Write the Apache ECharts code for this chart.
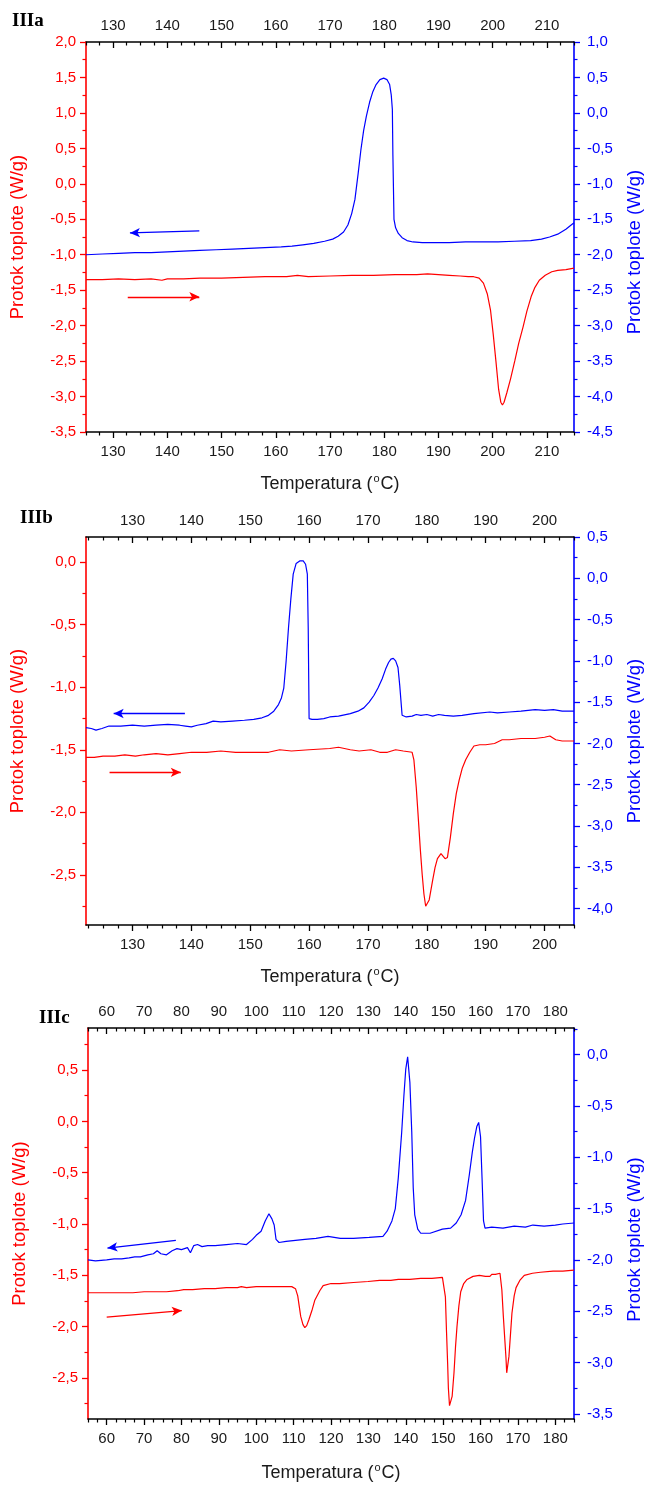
<!DOCTYPE html>
<html><head><meta charset="utf-8">
<script src="https://cdn.jsdelivr.net/npm/echarts@6/dist/echarts.min.js"></script>
<style>html,body{margin:0;padding:0;background:#fff}#c{width:652px;height:1485px}</style>
</head><body><div id="c"></div>
<script>
// ---------- Panel IIIa ----------
const aXTicks = [130,140,150,160,170,180,190,200,210];
const aYLeftTicks = [2.0,1.5,1.0,0.5,0.0,-0.5,-1.0,-1.5,-2.0,-2.5,-3.0,-3.5];
const aYRightTicks = [1.0,0.5,0.0,-0.5,-1.0,-1.5,-2.0,-2.5,-3.0,-3.5,-4.0,-4.5];
const aRedX = [125,128,131,134,137,139,140,143,146,150,154,158,162,164,166,170,174,178,182,186,188,190,192,194,195.5,196.5,197.5,198.3,199,199.6,200.1,200.6,201.1,201.5,201.8,202.1,202.6,203.3,204.1,204.8,205.6,206.3,207.1,207.8,208.6,209.7,210.9,212,213.5,215];
const aRedY = [-1.35,-1.35,-1.34,-1.35,-1.34,-1.36,-1.34,-1.34,-1.33,-1.33,-1.32,-1.31,-1.31,-1.29,-1.31,-1.30,-1.29,-1.29,-1.28,-1.28,-1.27,-1.28,-1.29,-1.30,-1.31,-1.31,-1.33,-1.40,-1.55,-1.78,-2.12,-2.50,-2.90,-3.08,-3.12,-3.08,-2.95,-2.75,-2.49,-2.25,-2.02,-1.80,-1.59,-1.46,-1.36,-1.29,-1.24,-1.22,-1.21,-1.19];
const aBlueX = [125,128,131,134,137,140,143,146,149,152,155,158,161,163,165,167,169,170.5,171.5,172.5,173.3,174,174.6,175.2,175.7,176.2,176.7,177.3,177.9,178.5,179.2,179.9,180.5,181,181.3,181.5,181.6,181.8,182.1,182.6,183.3,184.2,185.3,187,189,192,195,198,201,204,207,209,210.5,212,213.5,215];
const aBlueY = [-2.0,-1.99,-1.98,-1.97,-1.97,-1.96,-1.95,-1.94,-1.93,-1.92,-1.91,-1.90,-1.89,-1.88,-1.86,-1.84,-1.81,-1.78,-1.74,-1.68,-1.58,-1.42,-1.22,-0.85,-0.52,-0.25,-0.05,0.15,0.30,0.40,0.47,0.49,0.47,0.40,0.25,0.05,-0.6,-1.5,-1.62,-1.70,-1.76,-1.80,-1.82,-1.83,-1.83,-1.83,-1.82,-1.82,-1.82,-1.81,-1.80,-1.78,-1.75,-1.71,-1.64,-1.55];
const aRedArrow = [[132.7,-1.593],[145.9,-1.593]];
const aBlueArrow = [[145.9,-1.665],[133.1,-1.693]];

// ---------- Panel IIIb ----------
const bXTicks = [130,140,150,160,170,180,190,200];
const bYLeftTicks = [0.0,-0.5,-1.0,-1.5,-2.0,-2.5];
const bYRightTicks = [0.5,0.0,-0.5,-1.0,-1.5,-2.0,-2.5,-3.0,-3.5,-4.0];
const bBlueX = [122.1,123,123.8,124.8,126,128,130,132,134,136,138,139,140,141,142.5,143.7,145,147,149,150.6,152,153.1,154,154.8,155.3,155.7,156.1,156.5,156.9,157.3,157.8,158.4,159,159.4,159.7,159.85,160.0,160.5,161.4,162.5,163.5,165,167,168.3,169.3,170.2,171,171.7,172.4,173,173.5,173.9,174.3,174.7,175.1,175.4,175.8,176.5,177.5,178.2,179,180,181,182,183,184.5,186,188,190.7,192,194,196,198.4,200,201.5,203,205];
const bBlueY = [-1.81,-1.82,-1.84,-1.82,-1.79,-1.79,-1.78,-1.79,-1.78,-1.77,-1.78,-1.79,-1.80,-1.78,-1.76,-1.73,-1.74,-1.73,-1.72,-1.71,-1.69,-1.66,-1.61,-1.53,-1.45,-1.33,-1.0,-0.6,-0.25,0.05,0.18,0.21,0.21,0.17,0.05,-0.6,-1.70,-1.71,-1.71,-1.70,-1.68,-1.67,-1.64,-1.61,-1.57,-1.50,-1.42,-1.33,-1.22,-1.10,-1.02,-0.98,-0.97,-1.00,-1.08,-1.30,-1.66,-1.68,-1.67,-1.65,-1.66,-1.65,-1.67,-1.65,-1.66,-1.67,-1.66,-1.64,-1.62,-1.63,-1.62,-1.61,-1.59,-1.60,-1.59,-1.61,-1.61];
const bRedX = [122.1,123.5,125,127,128.7,130.5,132,134,136,138,140,142.6,145,147.5,150,153.1,155,157,160,163.5,165,167,168.5,170.5,172,173.3,174.7,176,177.5,177.8,178.2,178.5,178.9,179.2,179.5,179.8,180.1,180.4,181.0,181.4,181.8,182.4,183.1,183.5,184.0,184.5,185.0,185.5,186.0,186.6,187.3,188.0,189,190,191.5,192.8,194,196,198.4,200,200.9,201.9,203,205];
const bRedY = [-1.56,-1.56,-1.55,-1.55,-1.54,-1.55,-1.54,-1.53,-1.54,-1.53,-1.52,-1.52,-1.51,-1.52,-1.52,-1.52,-1.50,-1.51,-1.50,-1.49,-1.48,-1.50,-1.51,-1.50,-1.52,-1.52,-1.50,-1.51,-1.52,-1.58,-1.80,-2.01,-2.30,-2.49,-2.65,-2.75,-2.75,-2.70,-2.54,-2.44,-2.37,-2.33,-2.37,-2.36,-2.20,-2.01,-1.85,-1.74,-1.65,-1.58,-1.52,-1.47,-1.46,-1.46,-1.45,-1.42,-1.42,-1.41,-1.41,-1.40,-1.39,-1.42,-1.43,-1.43];
const bRedArrow = [[126.1,-1.68],[138.2,-1.68]];
const bBlueArrow = [[138.9,-1.638],[126.8,-1.638]];

// ---------- Panel IIIc ----------
const cXTicks = [60,70,80,90,100,110,120,130,140,150,160,170,180];
const cYLeftTicks = [0.5,0.0,-0.5,-1.0,-1.5,-2.0,-2.5];
const cYRightTicks = [0.0,-0.5,-1.0,-1.5,-2.0,-2.5,-3.0,-3.5];
const cBlueX = [55,57,60,62,64,66,67.5,69,71,72.5,73.5,74.5,76,77.5,78.8,80,81.6,82.4,83.3,84.3,85.5,87,89,92,95,97.4,99,100,101.3,102.4,103.4,104.2,104.8,105.3,106.1,108,110.5,113,116,119.2,122.5,126,130.2,133.9,135,136.3,137.2,138,138.9,139.5,140,140.5,141.1,141.6,142,142.4,143.2,144,146.5,149.8,152,153.5,154.8,156,157,157.8,158.4,159,159.5,160,160.4,160.8,161.2,163,166,169,172,174,177,180,182,185];
const cBlueY = [-2.0,-2.01,-2.0,-1.99,-1.99,-1.98,-1.97,-1.97,-1.95,-1.94,-1.91,-1.94,-1.95,-1.91,-1.89,-1.90,-1.88,-1.93,-1.86,-1.85,-1.87,-1.86,-1.86,-1.85,-1.84,-1.85,-1.80,-1.76,-1.72,-1.62,-1.55,-1.60,-1.66,-1.80,-1.83,-1.82,-1.81,-1.80,-1.79,-1.77,-1.79,-1.79,-1.78,-1.77,-1.72,-1.62,-1.50,-1.20,-0.76,-0.40,-0.14,-0.02,-0.27,-0.75,-1.30,-1.56,-1.70,-1.74,-1.74,-1.70,-1.69,-1.64,-1.56,-1.42,-1.17,-0.95,-0.81,-0.70,-0.66,-0.80,-1.20,-1.62,-1.69,-1.68,-1.69,-1.67,-1.68,-1.66,-1.67,-1.66,-1.65,-1.64];
const cRedX = [55,58,61,64,67,70,73,76,79,80.6,83,86.1,89,92,95,96,97.4,100,103,106,108.3,109.5,110.5,111.1,111.5,111.9,112.5,113.0,113.5,114.1,115,115.7,117,117.9,120,122.3,126,129.9,133,136,138,141.1,144,147,149.8,150.3,150.6,150.9,151.2,151.4,151.7,152.0,152.4,152.9,153.3,153.7,154.2,154.7,155.5,156.4,158,159.7,161.3,162.5,163,164,165.2,165.7,166.1,166.5,166.8,167.0,167.3,167.6,168.0,168.4,169,169.5,170.5,171.7,173.9,176,179.4,182,185];
const cRedY = [-1.67,-1.67,-1.67,-1.67,-1.67,-1.66,-1.66,-1.66,-1.65,-1.64,-1.64,-1.63,-1.63,-1.62,-1.62,-1.61,-1.62,-1.61,-1.61,-1.61,-1.61,-1.61,-1.63,-1.70,-1.80,-1.90,-1.98,-2.01,-1.99,-1.93,-1.83,-1.74,-1.65,-1.60,-1.58,-1.58,-1.57,-1.56,-1.55,-1.55,-1.54,-1.54,-1.53,-1.53,-1.52,-1.52,-1.71,-2.05,-2.36,-2.60,-2.77,-2.78,-2.68,-2.45,-2.20,-2.00,-1.80,-1.66,-1.58,-1.54,-1.51,-1.50,-1.51,-1.51,-1.49,-1.49,-1.48,-1.64,-1.90,-2.13,-2.30,-2.45,-2.44,-2.29,-2.08,-1.87,-1.70,-1.62,-1.55,-1.50,-1.48,-1.47,-1.46,-1.46,-1.45];
const cRedArrow = [[60.0,-1.908],[80.1,-1.843]];
const cBlueArrow = [[78.5,-1.809],[60.2,-1.884]];

const yTitle = 'Protok toplote (W/g)';
const xTitle = 'Temperatura ({sup|o}C)';
const panelLabels = ['IIIa','IIIb','IIIc'];

// ---------- build ----------
const FONT = '"Liberation Sans", Arial, sans-serif';
const RED = '#ff0000', BLUE = '#0000ff', INK = '#1a1a1a';
const zip = (xs, ys) => xs.map((x, i) => [x, ys[i]]);
function minors(lo, hi, step, majors) {
  const out = [];
  for (let k = Math.ceil(lo / step - 1e-9); k * step <= hi + 1e-9; k++) {
    const v = +(k * step).toFixed(4);
    if (!majors.some(m => Math.abs(m - v) < 1e-6)) out.push(v);
  }
  return out;
}
const fmtY = v => v.toFixed(1).replace('.', ',');

const panels = [
  {grid:{left:86,right:72,top:42,height:390}, x:[125,215], xt:aXTicks,
   yl:[-3.5,2.0], ylt:aYLeftTicks, yr:[-4.5,1.0], yrt:aYRightTicks,
   red:zip(aRedX,aRedY), blue:zip(aBlueX,aBlueY), ra:aRedArrow, ba:aBlueArrow,
   xGap:43, rPad:30, lab:[12,12]},
  {grid:{left:86,right:72,top:537,height:388}, x:[122.1,205], xt:bXTicks,
   yl:[-2.9,0.2], ylt:bYLeftTicks, yr:[-4.2,0.5], yrt:bYRightTicks,
   red:zip(bRedX,bRedY), blue:zip(bBlueX,bBlueY), ra:bRedArrow, ba:bBlueArrow,
   xGap:43, rPad:20, lab:[20,509]},
  {grid:{left:88,right:68,top:1028,height:391}, x:[55,185], xt:cXTicks,
   yl:[-2.9,0.91], ylt:cYLeftTicks, yr:[-3.55,0.26], yrt:cYRightTicks,
   red:zip(cRedX,cRedY), blue:zip(cBlueX,cBlueY), ra:cRedArrow, ba:cBlueArrow,
   xGap:45, rPad:32, lab:[39,1009]}
];

const grid = [], xAxis = [], yAxis = [], series = [], graphic = [];
panels.forEach((p, i) => {
  grid.push(Object.assign({containLabel:false}, p.grid));
  const base = {type:'value', gridIndex:i, min:p.x[0], max:p.x[1], splitLine:{show:false}};
  const xMin = minors(p.x[0], p.x[1], 2.5, p.xt);
  const lblX = {fontFamily:FONT, fontSize:15, color:INK, customValues:p.xt};
  xAxis.push(Object.assign({}, base, {position:'bottom',
    axisLine:{onZero:false, lineStyle:{color:'#000', width:1.5}},
    axisTick:{inside:false, length:6, lineStyle:{color:'#000', width:1.3}, customValues:p.xt},
    axisLabel:Object.assign({margin:12}, lblX),
    name:xTitle, nameLocation:'middle', nameGap:p.xGap,
    nameTextStyle:{fontFamily:FONT, fontSize:18, color:INK,
      rich:{sup:{fontFamily:FONT, fontSize:11, color:INK, verticalAlign:'bottom', lineHeight:11, padding:[0,1,9,1]}}}}));
  xAxis.push(Object.assign({}, base, {position:'bottom',
    axisLine:{show:false, onZero:false},
    axisTick:{inside:false, length:3.5, lineStyle:{color:'#000', width:1.2}, customValues:xMin},
    axisLabel:{show:false}}));
  xAxis.push(Object.assign({}, base, {position:'top',
    axisLine:{onZero:false, lineStyle:{color:'#000', width:1.5}},
    axisTick:{inside:true, length:6, lineStyle:{color:'#000', width:1.3}, customValues:p.xt},
    axisLabel:Object.assign({margin:9}, lblX)}));
  xAxis.push(Object.assign({}, base, {position:'top',
    axisLine:{show:false, onZero:false},
    axisTick:{inside:true, length:3.5, lineStyle:{color:'#000', width:1.2}, customValues:xMin},
    axisLabel:{show:false}}));

  const yb = (rng) => ({type:'value', gridIndex:i, min:rng[0], max:rng[1], splitLine:{show:false}});
  const ylMin = minors(p.yl[0], p.yl[1], 0.25, p.ylt);
  const yrMin = minors(p.yr[0], p.yr[1], 0.25, p.yrt);
  yAxis.push(Object.assign(yb(p.yl), {position:'left',
    axisLine:{onZero:false, lineStyle:{color:RED, width:1.6}},
    axisTick:{inside:false, length:6, lineStyle:{color:RED, width:1.3}, customValues:p.ylt},
    axisLabel:{fontFamily:FONT, fontSize:15, color:RED, margin:10, customValues:p.ylt, formatter:fmtY},
    name:yTitle, nameLocation:'middle', nameGap:59,
    nameTextStyle:{fontFamily:FONT, fontSize:18.5, color:RED}}));
  yAxis.push(Object.assign(yb(p.yl), {position:'left',
    axisLine:{show:false, onZero:false},
    axisTick:{inside:false, length:3.5, lineStyle:{color:RED, width:1.2}, customValues:ylMin},
    axisLabel:{show:false}}));
  yAxis.push(Object.assign(yb(p.yr), {position:'right',
    axisLine:{onZero:false, lineStyle:{color:BLUE, width:1.6}},
    axisTick:{inside:false, length:6, lineStyle:{color:BLUE, width:1.3}, customValues:p.yrt},
    axisLabel:{fontFamily:FONT, fontSize:15, color:BLUE, margin:13, customValues:p.yrt, formatter:fmtY},
    name:yTitle, nameLocation:'middle', nameGap:51,
    nameTextStyle:{fontFamily:FONT, fontSize:18.5, color:BLUE, padding:[0, p.rPad, 0, 0]}}));
  yAxis.push(Object.assign(yb(p.yr), {position:'right',
    axisLine:{show:false, onZero:false},
    axisTick:{inside:false, length:3.5, lineStyle:{color:BLUE, width:1.2}, customValues:yrMin},
    axisLabel:{show:false}}));

  const mk = (arrow, color) => ({silent:true, symbol:['none','arrow'], symbolSize:[7,10],
    lineStyle:{color, width:1.3, type:'solid'}, itemStyle:{color}, label:{show:false}, animation:false,
    emphasis:{disabled:true},
    data:[[{coord:arrow[0]}, {coord:arrow[1]}]]});
  series.push({type:'line', xAxisIndex:4*i, yAxisIndex:4*i, data:p.red, showSymbol:false,
    symbol:'none', lineStyle:{color:RED, width:1.2}, itemStyle:{color:RED}, silent:true,
    animation:false, markLine:mk(p.ra, RED)});
  series.push({type:'line', xAxisIndex:4*i, yAxisIndex:4*i+2, data:p.blue, showSymbol:false,
    symbol:'none', lineStyle:{color:BLUE, width:1.2}, itemStyle:{color:BLUE}, silent:true,
    animation:false, markLine:mk(p.ba, BLUE)});

  graphic.push({type:'text', left:p.lab[0], top:p.lab[1],
    style:{text:panelLabels[i], font:'bold 19px "Liberation Serif", "Times New Roman", serif', fill:'#000'}});
});

const chart = echarts.init(document.getElementById('c'), null, {renderer:'canvas'});
chart.setOption({backgroundColor:'#fff', animation:false, grid, xAxis, yAxis, series, graphic});
</script></body></html>
